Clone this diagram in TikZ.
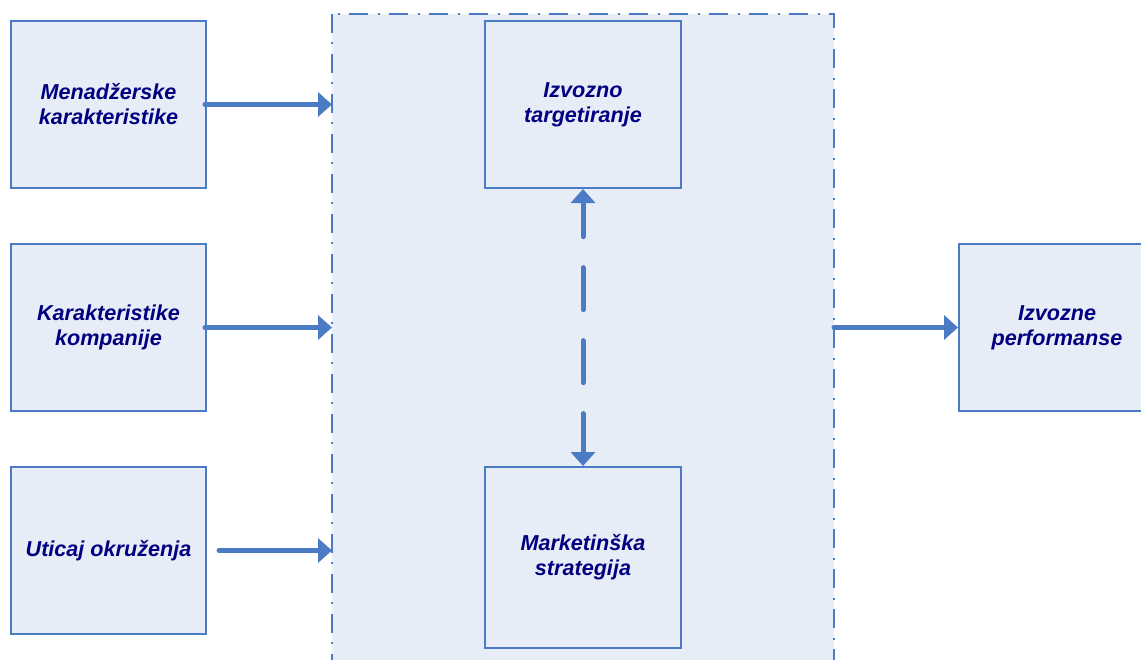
\documentclass[tikz,border=0pt]{standalone}
\usepackage{fontspec}
\setmainfont{Liberation Sans}
\usetikzlibrary{arrows.meta}
\definecolor{boxfill}{RGB}{231,237,247}
\definecolor{boxline}{RGB}{74,123,196}
\definecolor{labelnavy}{RGB}{0,0,128}
\tikzset{
  factor/.style={draw=boxline, line width=2bp, fill=boxfill, text=labelnavy,
    minimum width=195bp, minimum height=167bp, inner sep=0pt, align=center,
    font=\fontsize{21.6bp}{25bp}\selectfont\bfseries\itshape},
  flow/.style={draw=boxline, line width=5bp, line cap=round,
    -{Triangle[length=14bp,width=24bp]}},
  link/.style={draw=boxline, line width=5bp, line cap=round,
    {Triangle[length=14bp,width=24bp]}-{Triangle[length=14bp,width=24bp]},
    dash pattern=on 42bp off 31bp, dash phase=7.5bp},
  core/.style={draw=boxline, line width=2bp, fill=boxfill,
    dash pattern=on 19bp off 9bp on 2bp off 10bp}
}
\begin{document}
\begin{tikzpicture}[x=1bp,y=-1bp]
  \useasboundingbox (0,0) rectangle (1141,660);
  \clip (0,0) rectangle (1141,660);
  \fill[white] (0,0) rectangle (1141,660);
  % central strategy area (runs past the lower edge)
  \draw[core] (332,14) rectangle (834,690);
  \coordinate (coreW) at (332,0);
  \coordinate (coreE) at (834,0);
  % determinants on the left
  \node[factor] (mgr) at (108.5,104.5) {Menadžerske\\karakteristike};
  \node[factor] (cmp) at (108.5,327.5) {Karakteristike\\kompanije};
  \node[factor] (env) at (108.5,550.5) {Uticaj okruženja};
  % inner boxes
  \node[factor, minimum width=196bp] (tgt) at (583,104.5) {Izvozno\\targetiranje};
  \node[factor, minimum width=196bp, minimum height=181bp] (mkt) at (583,557.5) {Marketinška\\strategija};
  % outcome
  \node[factor, minimum width=196bp] (perf) at (1057,327.5) {Izvozne\\performanse};
  % connectors
  \draw[flow] ([xshift=-2bp]mgr.east) -- (mgr.east -| coreW);
  \draw[flow] ([xshift=-2bp]cmp.east) -- (cmp.east -| coreW);
  \draw[flow] ([xshift=12bp]env.east) -- (env.east -| coreW);
  \draw[flow] (perf.west -| coreE) -- (perf.west);
  \draw[link] (tgt.south) -- (mkt.north);
\end{tikzpicture}
\end{document}
